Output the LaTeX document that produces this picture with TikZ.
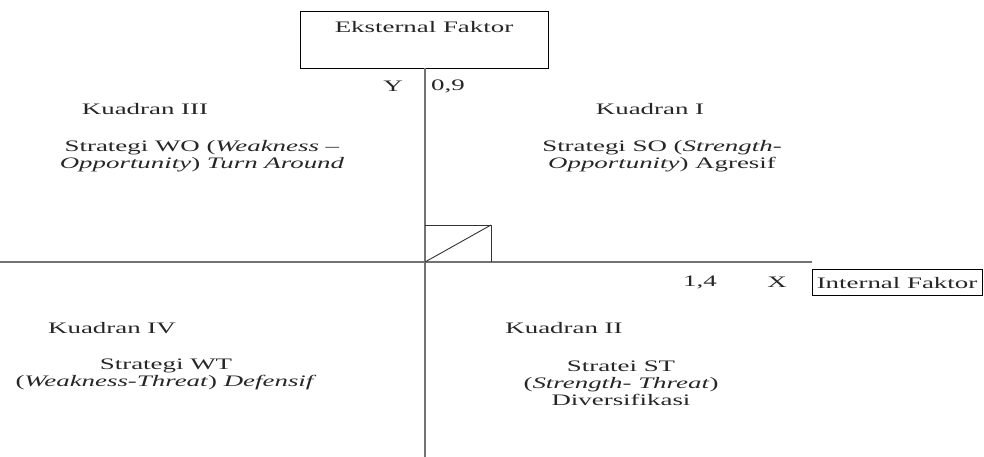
\documentclass[tikz,border=0pt]{standalone}
\usepackage{fontspec}
\setmainfont{Liberation Serif}
\begin{document}
\begin{tikzpicture}[x=1pt,y=-1pt,
  txt/.style={font=\fontsize{16}{17}\selectfont, xscale=1.68, inner sep=0pt, align=center, text=black!85},
  boxline/.style={draw=black, line width=0.9pt},
  axisline/.style={draw=black!55, line width=1.1pt}]
\useasboundingbox (0,0) rectangle (984,457);
% boxes
\node[boxline, minimum width=248pt, minimum height=57pt, inner sep=0pt] (ekstbox) at (424,39.5) {};
\node[txt] (ekst) at (424,27) {Eksternal Faktor};
\node[boxline, minimum width=170pt, minimum height=26pt, inner sep=0pt] (intbox) at (897,282.5) {};
\node[txt] (intl) at (897,283) {Internal Faktor};
% axes
\coordinate (O) at (425,262);
\coordinate (bot) at (425,457);
\coordinate (left) at (0,262);
\draw[axisline, line width=1.6pt] (O |- ekstbox.south) -- (bot);
\draw[axisline] (left) -- (intbox.west |- O);
% small square
\coordinate (P) at (491,225);
\draw[black!80, line width=0.9pt] (O |- P) -- (P) -- (P |- O);
\draw[black!80, line width=0.9pt] (O) -- (P);
% axis labels
\node[txt] (ylab) at (393,86) {Y};
\node[txt] (yval) at (448,86) {0,9};
\node[txt] (xval) at (700,282) {1,4};
\node[txt] (xlab) at (777,282) {X};
% quadrants
\node[txt] (k3) at (145,109) {Kuadran III};
\node[txt] (s3) at (202,156) {Strategi WO (\textit{Weakness –}\\\textit{Opportunity}) \textit{Turn Around}};
\node[txt] (k1) at (650,109) {Kuadran I};
\node[txt] (s1) at (662,156) {Strategi SO (\textit{Strength-}\\\textit{Opportunity}) Agresif};
\node[txt] (k4) at (112,328) {Kuadran IV};
\node[txt] (s4) at (166,374) {Strategi WT\\(\textit{Weakness-Threat}) \textit{Defensif}};
\node[txt] (k2) at (564,328) {Kuadran II};
\node[txt] (s2) at (621,383) {Stratei ST\\(\textit{Strength- Threat})\\Diversifikasi};
\end{tikzpicture}
\end{document}
